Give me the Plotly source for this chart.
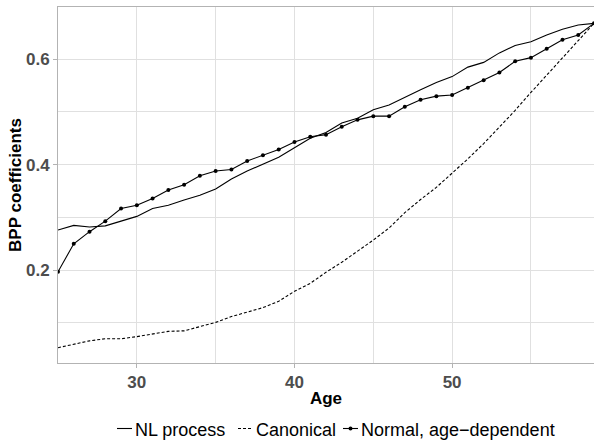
import plotly.graph_objects as go

ages = list(range(25, 60))

nl_process = [0.276, 0.285, 0.282, 0.284, 0.293, 0.302, 0.317, 0.323, 0.333, 0.342,
              0.354, 0.373, 0.388, 0.401, 0.414, 0.432, 0.450, 0.461, 0.479, 0.488,
              0.504, 0.513, 0.528, 0.542, 0.556, 0.567, 0.585, 0.594, 0.612, 0.626,
              0.633, 0.646, 0.657, 0.665, 0.668]

canonical = [0.053, 0.060, 0.066, 0.070, 0.070, 0.074, 0.079, 0.084, 0.085, 0.093,
             0.101, 0.112, 0.120, 0.129, 0.141, 0.160, 0.175, 0.196, 0.215, 0.236,
             0.257, 0.280, 0.309, 0.334, 0.357, 0.384, 0.411, 0.440, 0.471, 0.503,
             0.537, 0.570, 0.604, 0.636, 0.668]

normal_age = [0.197, 0.250, 0.273, 0.293, 0.317, 0.323, 0.336, 0.352, 0.362, 0.379,
              0.388, 0.391, 0.407, 0.418, 0.429, 0.443, 0.453, 0.457, 0.472, 0.485,
              0.492, 0.492, 0.510, 0.523, 0.530, 0.532, 0.546, 0.560, 0.575, 0.596,
              0.603, 0.620, 0.637, 0.646, 0.668]

series_names = ["NL process", "Canonical", "Normal, age\u2212dependent"]
series_dash = ["solid", "3px,2px", "solid"]
series_markers = [False, False, True]

FONT = "Liberation Sans, Arial, Helvetica, sans-serif"
GRID = "#E0E0E0"
BORDER = "#B3B3B3"

W, H = 594, 442
ML, MR, MT, MB = 58, 0, 7, 79
PW, PH = W - ML - MR, H - MT - MB

def px_x(p):
    return (p - ML) / PW

def px_y(p):
    return (H - MB - p) / PH

fig = go.Figure()
for name, vals, dash, mk in zip(series_names, [nl_process, canonical, normal_age],
                                series_dash, series_markers):
    fig.add_trace(go.Scatter(
        x=ages, y=vals, mode="lines+markers" if mk else "lines", name=name,
        line=dict(color="black", width=1.1, dash=dash),
        marker=dict(color="black", size=4),
        showlegend=False,
    ))

# manual legend (ggplot-style compact keys below the panel)
legend_y = 428.5
key_x = [117, 238, 343]
text_x = [134, 255, 360]
shapes = []
annotations = []
for i, name in enumerate(series_names):
    shapes.append(dict(type="line", xref="paper", yref="paper",
                       x0=px_x(key_x[i]), x1=px_x(key_x[i] + 15),
                       y0=px_y(legend_y), y1=px_y(legend_y),
                       line=dict(color="black", width=1.1, dash=series_dash[i])))
    if series_markers[i]:
        cx = key_x[i] + 7.5
        shapes.append(dict(type="circle", xref="paper", yref="paper",
                           x0=px_x(cx - 2), x1=px_x(cx + 2),
                           y0=px_y(legend_y + 2), y1=px_y(legend_y - 2),
                           fillcolor="black", line=dict(color="black", width=0)))
    annotations.append(dict(text=name, xref="paper", yref="paper",
                            x=px_x(text_x[i]), y=px_y(legend_y + 1),
                            xanchor="left", yanchor="middle", showarrow=False,
                            borderpad=0,
                            font=dict(family=FONT, size=18, color="black")))

fig.update_layout(
    width=W, height=H,
    margin=dict(l=ML, r=MR, t=MT, b=MB),
    paper_bgcolor="white", plot_bgcolor="white",
    font=dict(family=FONT, size=17, color="black"),
    showlegend=False,
    shapes=shapes, annotations=annotations,
)

fig.update_xaxes(
    range=[25, 59], tick0=0, dtick=10, automargin=False,
    showgrid=True, gridcolor=GRID, gridwidth=1,
    minor=dict(dtick=5, tick0=0, showgrid=True, gridcolor=GRID, gridwidth=1),
    showline=True, linecolor=BORDER, linewidth=1, mirror=True,
    ticks="outside", ticklen=4, tickcolor=BORDER,
    tickfont=dict(family=FONT, size=17, color="#4D4D4D", weight="bold"),
    title=dict(text="<b>Age</b>", font=dict(family=FONT, size=17, color="black"), standoff=0),
    zeroline=False,
)
fig.update_yaxes(
    range=[0.024, 0.699], tick0=0, dtick=0.2, tickformat=".1f", automargin=False,
    showgrid=True, gridcolor=GRID, gridwidth=1,
    minor=dict(dtick=0.1, tick0=0, showgrid=True, gridcolor=GRID, gridwidth=1),
    showline=True, linecolor=BORDER, linewidth=1, mirror=True,
    ticks="outside", ticklen=4, tickcolor=BORDER,
    tickfont=dict(family=FONT, size=17, color="#4D4D4D", weight="bold"),
    title=dict(text="<b>BPP coefficients</b>", font=dict(family=FONT, size=17, color="black"), standoff=0),
    zeroline=False,
)

fig.write_html(
    "out.html",
    config={"displayModeBar": False},
    post_script="document.documentElement.style.margin='0';"
                "document.body.style.margin='0';document.body.style.overflow='hidden';",
)
